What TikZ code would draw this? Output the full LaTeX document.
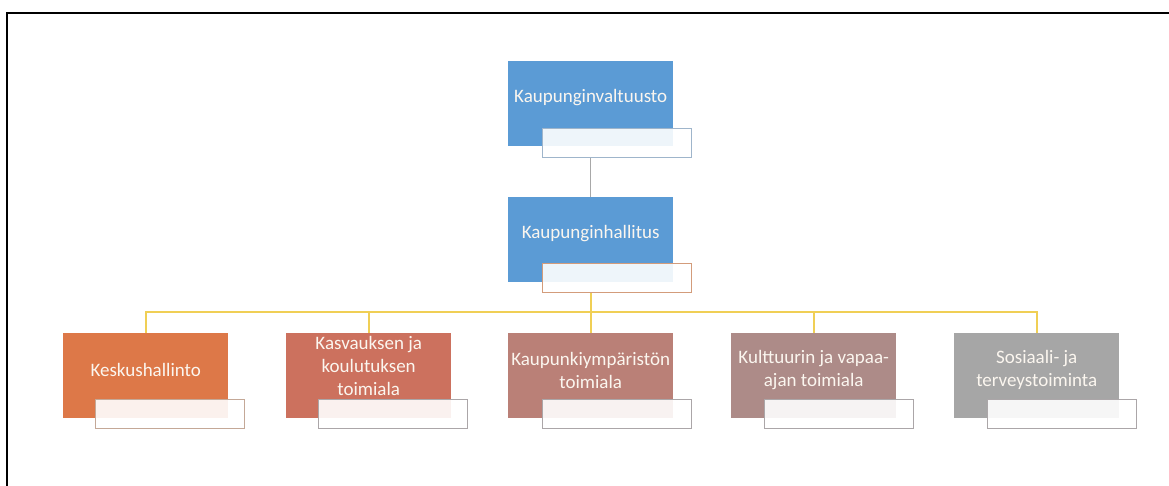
\documentclass[tikz,border=0pt]{standalone}
\usepackage{fontspec}
\setmainfont{Carlito}
\definecolor{cblue}{HTML}{5B9BD5}
\definecolor{corange}{HTML}{DD7848}
\definecolor{cterra}{HTML}{CC715E}
\definecolor{crose}{HTML}{BA8077}
\definecolor{cmauve}{HTML}{AD8B88}
\definecolor{cgray}{HTML}{A6A6A6}
\definecolor{bdblue}{HTML}{9FB5CB}
\definecolor{bdorange}{HTML}{D39C7B}
\definecolor{bdtan}{HTML}{C4A897}
\definecolor{bdgray}{HTML}{ABA6A8}
\definecolor{busyellow}{HTML}{F0CF55}
\definecolor{linkgray}{HTML}{A8A8A8}
\definecolor{captext}{HTML}{FBF6EF}
\tikzset{
  x=1pt, y=-1pt,
  unit/.style={draw=none, fill=#1, minimum width=165pt, minimum height=85pt,
    inner sep=0pt, anchor=north west},
  tag/.style={draw=#1, line width=1pt, fill=white, fill opacity=0.9,
    minimum width=149pt, minimum height=29pt, inner sep=0pt, anchor=north west},
  caption/.style={text=captext, font=\fontsize{19}{23}\selectfont, align=center,
    inner sep=0pt, anchor=center},
  bus/.style={draw=busyellow, line width=1.6pt},
  link/.style={draw=linkgray, line width=1pt},
}
\begin{document}
\begin{tikzpicture}
\useasboundingbox (0,0) rectangle (1169,486);
% open frame along the top and left edges
\draw[line width=2pt] (1169,13.5) -- (7,13.5) -- (7,486);

% council and board
\node[unit=cblue] (valt) at (508,61) {};
\node[tag=bdblue] (valtTag) at (542,128) {};
\node[caption] (valtTxt) at ([yshift=-37pt]valt.north) {Kaupunginvaltuusto};

\node[unit=cblue] (hall) at (508,197) {};
\node[tag=bdorange] (hallTag) at (542,263) {};
\node[caption] (hallTxt) at ([yshift=-37pt]hall.north) {Kaupunginhallitus};

% departments
\node[unit=corange] (kesk) at (63,333) {};
\node[tag=bdtan] (keskTag) at (95,399) {};
\node[caption] (keskTxt) at ([yshift=-37pt]kesk.north) {Keskushallinto};

\node[unit=cterra] (kasv) at (286,333) {};
\node[tag=bdgray] (kasvTag) at (318,399) {};
\node[caption] (kasvTxt) at ([yshift=-33pt]kasv.north) {Kasvauksen ja\\koulutuksen\\toimiala};

\node[unit=crose] (ympa) at (508,333) {};
\node[tag=bdgray] (ympaTag) at (542,399) {};
\node[caption] (ympaTxt) at ([yshift=-37pt]ympa.north) {Kaupunkiympäristön\\toimiala};

\node[unit=cmauve] (kult) at (731,333) {};
\node[tag=bdgray] (kultTag) at (764,399) {};
\node[caption] (kultTxt) at ([yshift=-37pt]kult.north) {Kulttuurin ja vapaa-\\ajan toimiala};

\node[unit=cgray] (sote) at (954,333) {};
\node[tag=bdgray] (soteTag) at (987,399) {};
\node[caption] (soteTxt) at ([yshift=-37pt]sote.north) {Sosiaali- ja\\terveystoiminta};

% connectors
\draw[link] (valt.north |- valtTag.south) -- (hall.north);
\coordinate (busHub) at (hall.north |- 0,312);
\draw[bus] (hall.north |- hallTag.south) -- (busHub);
\draw[bus] (busHub) -| (kesk.north);
\draw[bus] (busHub) -| (kasv.north);
\draw[bus] (busHub) -- (ympa.north);
\draw[bus] (busHub) -| (kult.north);
\draw[bus] (busHub) -| (sote.north);
\end{tikzpicture}
\end{document}
